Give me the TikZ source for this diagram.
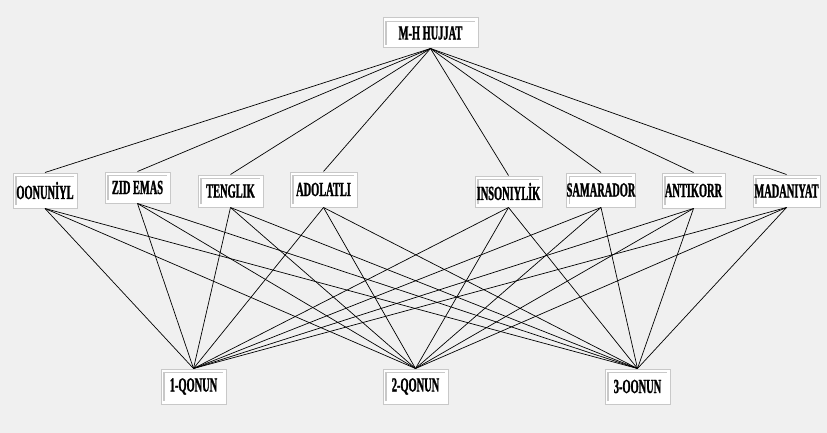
\documentclass[tikz,border=0pt]{standalone}
\usepackage{fontspec}
\newfontfamily\boxfont[FakeStretch=0.52,BoldFeatures={FakeBold=1.2}]{Liberation Serif}
\definecolor{bg}{HTML}{F0F0F0}
\definecolor{edge}{HTML}{C8C8C8}
\tikzset{
  boxnode/.style={draw=edge, line width=1pt, fill=white, inner sep=0pt,
    minimum height=32pt, font=\boxfont\bfseries\fontsize{20}{20}\selectfont,
    path picture={\draw[edge, line width=1.3pt]
      ([xshift=3pt,yshift=3pt]path picture bounding box.south west) |-
      ([xshift=-3pt,yshift=-3.5pt]path picture bounding box.north east);}},
  link/.style={black, line width=0.7pt}
}
\begin{document}
\begin{tikzpicture}[x=1pt,y=-1pt]
\useasboundingbox (0,0) rectangle (827,433);
\fill[bg] (0,0) rectangle (827,433);
% top
\node[boxnode, minimum width=95pt, minimum height=30pt] (top) at (430.5,33) {M-H HUJJAT};
% middle
\node[boxnode, minimum width=64pt, minimum height=35pt] (m1) at (45,190.5) {OONUNİYL};
\node[boxnode, minimum width=65pt, minimum height=31pt] (m2) at (137.5,187.5) {ZID EMAS};
\node[boxnode, minimum width=65pt, minimum height=32pt] (m3) at (230.5,191) {TENGLIK};
\node[boxnode, minimum width=67pt, minimum height=35pt] (m4) at (323.5,189.5) {ADOLATLI};
\node[boxnode, minimum width=67pt, minimum height=31pt] (m5) at (508.5,191.5) {INSONIYLİK};
\node[boxnode, minimum width=68pt, minimum height=34pt] (m6) at (601,190) {SAMARADOR};
\node[boxnode, minimum width=63pt, minimum height=35pt] (m7) at (693.5,190.5) {ANTIKORR};
\node[boxnode, minimum width=67pt, minimum height=32pt] (m8) at (786.5,191) {MADANIYAT};
% bottom
\node[boxnode, minimum width=65pt, minimum height=35pt] (b1) at (193.5,386.5) {1-QONUN};
\node[boxnode, minimum width=65pt, minimum height=35pt] (b2) at (415.5,386.5) {2-QONUN};
\node[boxnode, minimum width=65pt, minimum height=35pt] (b3) at (637.5,386.5) {3-OONUN};
% connectors
\foreach \m in {m1,m2,m3,m4,m5,m6,m7,m8}{
  \draw[link] (top.south) -- (\m.north);
  \foreach \b in {b1,b2,b3}{
    \draw[link] (\m.south) -- (\b.north);
  }
}
\end{tikzpicture}
\end{document}
